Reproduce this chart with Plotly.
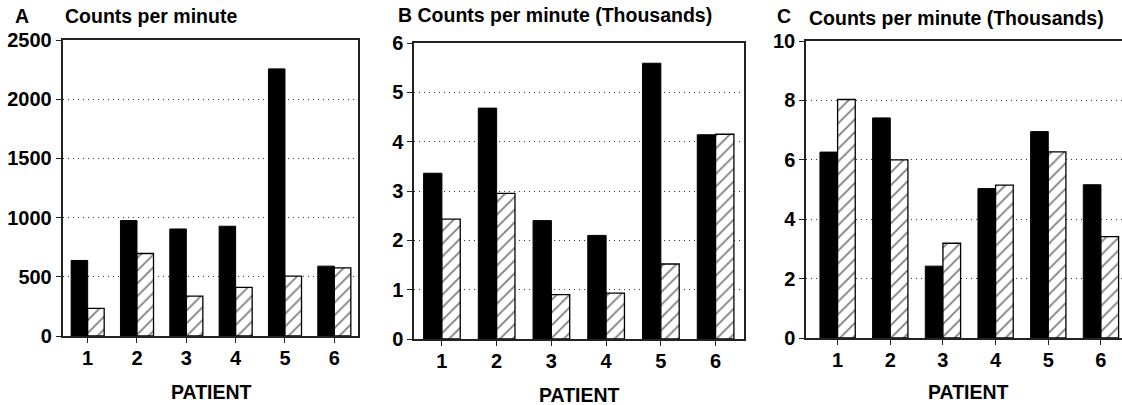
import plotly.graph_objects as go

patients = [1, 2, 3, 4, 5, 6]
tick_labels = ["1", "2", "3", "4", "5", "6"]

a_solid = [638, 975, 904, 927, 2256, 590]
a_hatched = [233, 697, 337, 410, 506, 576]

b_solid = [3.36, 4.68, 2.40, 2.10, 5.59, 4.14]
b_hatched = [2.43, 2.95, 0.90, 0.93, 1.52, 4.15]

c_solid = [6.26, 7.41, 2.42, 5.03, 6.95, 5.16]
c_hatched = [8.03, 6.00, 3.19, 5.15, 6.27, 3.41]

W, H = 1122, 405
FONT = "Liberation Sans"


def px_x(p):
    return p / W


def px_y(p):
    return 1 - p / H


fig = go.Figure()

panels = [
    ("x", "y", a_solid, a_hatched),
    ("x2", "y2", b_solid, b_hatched),
    ("x3", "y3", c_solid, c_hatched),
]
for xa, ya, solid, hatched in panels:
    fig.add_trace(go.Bar(
        x=patients, y=solid, xaxis=xa, yaxis=ya, showlegend=False,
        marker=dict(color="black", line=dict(color="black", width=1)),
        offsetgroup="s",
    ))
    fig.add_trace(go.Bar(
        x=patients, y=hatched, xaxis=xa, yaxis=ya, showlegend=False,
        marker=dict(color="white", line=dict(color="black", width=1.3),
                    pattern=dict(shape="/", fgcolor="black", bgcolor="white",
                                 size=9, solidity=0.2)),
        offsetgroup="h",
    ))

tickfont = dict(family=FONT, size=20, color="black", weight="bold")
common_x = dict(
    tickmode="array", tickvals=patients, ticktext=tick_labels,
    showline=True, linecolor="#222", linewidth=1.5,
    ticks="outside", ticklen=5, tickwidth=1.2, tickcolor="#222",
    tickfont=tickfont, showgrid=False, zeroline=False, ticklabelstandoff=-2,
    automargin=False,
)
common_y = dict(
    showline=True, linecolor="#222", linewidth=1.5,
    ticks="outside", ticklen=5, tickwidth=1.2, tickcolor="#222",
    tickfont=tickfont, showgrid=True, gridcolor="#333", gridwidth=1,
    griddash="1px,4px", zeroline=False, automargin=False,
)

fig.update_layout(
    width=W, height=H, autosize=False,
    margin=dict(l=0, r=0, t=0, b=0, pad=0, autoexpand=False),
    paper_bgcolor="white", plot_bgcolor="white",
    barmode="group", bargap=0.33, bargroupgap=0,
    xaxis=dict(common_x, domain=[px_x(62.5), px_x(357.5)], range=[0.49, 6.47],
               anchor="y", mirror=True),
    yaxis=dict(common_y, domain=[px_y(336), px_y(40)], range=[0, 2500],
               tickvals=[0, 500, 1000, 1500, 2000, 2500], anchor="x", mirror=True),
    xaxis2=dict(common_x, domain=[px_x(414), px_x(743.5)], range=[0.49, 6.51],
                anchor="y2", mirror=True),
    yaxis2=dict(common_y, domain=[px_y(339), px_y(43)], range=[0, 6],
                tickvals=[0, 1, 2, 3, 4, 5, 6], anchor="x2", mirror=True),
    xaxis3=dict(common_x, domain=[px_x(806), 1.0], range=[0.40, 6.40],
                anchor="y3", mirror=True),
    yaxis3=dict(common_y, domain=[px_y(338), px_y(41)], range=[0, 10],
                tickvals=[0, 2, 4, 6, 8, 10], anchor="x3", mirror=False),
)

title_font = dict(family=FONT, size=19.5, color="black", weight="bold")
annos = [
    ("A", 13, 15.5, "left"),
    ("Counts per minute", 63, 15.5, "left"),
    ("B Counts per minute (Thousands)", 396, 15, "left"),
    ("C", 775, 16, "left"),
    ("Counts per minute (Thousands)", 807, 18, "left"),
    ("PATIENT", 211.7, 392, "center"),
    ("PATIENT", 579, 395, "center"),
    ("PATIENT", 968.7, 392, "center"),
]
for text, x, y, xanchor in annos:
    fig.add_annotation(
        text=text, xref="paper", yref="paper", x=px_x(x), y=px_y(y),
        xanchor=xanchor, yanchor="middle", showarrow=False, font=title_font,
    )

fig.write_html("out.html")
